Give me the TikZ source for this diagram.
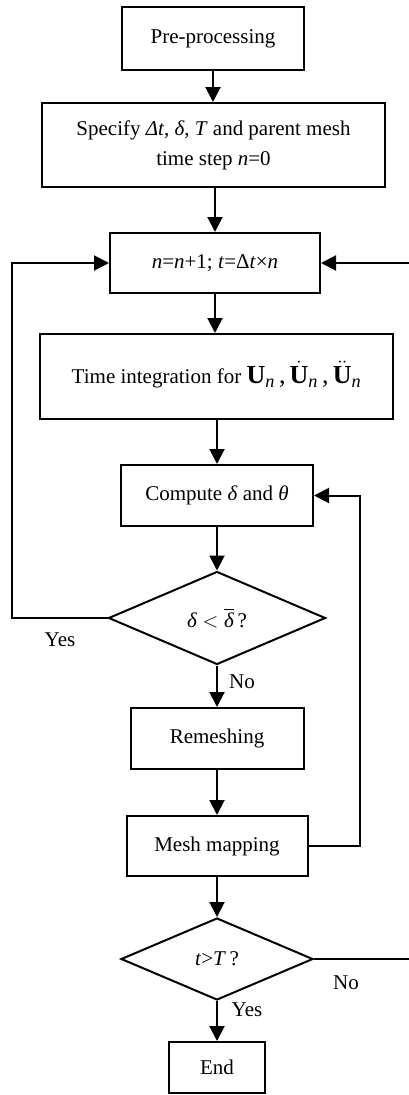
\documentclass[tikz,border=0pt]{standalone}
\usepackage{amsmath}
\usepackage{fontspec}
\setmainfont{Liberation Serif}
\usetikzlibrary{shapes.geometric,arrows.meta}
\begin{document}
\begin{tikzpicture}[x=1pt,y=-1pt,
  font=\fontsize{21}{25}\selectfont,
  box/.style={draw,line width=2pt,rectangle,inner sep=0pt,align=center},
  dia/.style={draw,line width=2pt,diamond,inner sep=0pt},
  conn/.style={line width=2pt},
  arr/.style={line width=2pt,-{Triangle[width=15pt,length=15pt]}},
  lab/.style={inner sep=0pt}]
\path[use as bounding box] (0,0) rectangle (409,1095);

\node[box,minimum width=182pt,minimum height=63pt] (pre) at (213,38.5) {Pre-processing};
\node[box,minimum width=343pt,minimum height=84pt] (spec) at (213.5,145)
  {Specify \textit{Δt}, \textit{δ}, \textit{T} and parent mesh\\[5pt] time step \textit{n}=0};
\node[box,minimum width=210pt,minimum height=60pt] (nbox) at (215,263)
  {\textit{n}=\textit{n}+1; \textit{t}=Δ\textit{t}×\textit{n}};
\node[box,minimum width=353pt,minimum height=85pt] (time) at (216.5,376.5)
  {\raisebox{9pt}{Time integration for\ {\fontsize{26}{26}\selectfont$\textbf{U}_{\text{\textit{n}}}\,\text{,}\,\dot{\textbf{U}}_{\text{\textit{n}}}\,\text{,}\,\ddot{\textbf{U}}_{\text{\textit{n}}}$}}};
\node[box,minimum width=192pt,minimum height=61pt] (comp) at (217,495.5)
  {\raisebox{5pt}{Compute \textit{δ} and \textit{θ}}};
\node[dia,minimum width=217pt,minimum height=93pt] (d1) at (217,618)
  {$\textit{δ}<\overline{\textit{δ}}$\,?};
\node[box,minimum width=173pt,minimum height=61pt] (rem) at (217,738.5) {Remeshing};
\node[box,minimum width=181pt,minimum height=60pt] (map) at (217,846) {Mesh mapping};
\node[dia,minimum width=192pt,minimum height=82pt] (d2) at (217,959) {\textit{t}>\textit{T}\,?};
\node[box,minimum width=96pt,minimum height=51pt] (end) at (217,1067.5) {End};

\coordinate (L) at (12,618);
\coordinate (R) at (409,263);
\coordinate (RM) at (360,495.5);
\coordinate (R2) at (409,959);

\draw[arr] (pre.south) -- (pre.south |- spec.north);
\draw[arr] (nbox.north |- spec.south) -- (nbox.north);
\draw[arr] (nbox.south) -- (nbox.south |- time.north);
\draw[arr] (comp.north |- time.south) -- (comp.north);
\draw[arr] (comp.south) -- (d1.north);
\draw[arr] (d1.west) -- (L) |- (nbox.west);
\draw[arr] (R) -- (nbox.east);
\draw[arr] (d1.south) -- (rem.north);
\draw[arr] (rem.south) -- (map.north);
\draw[arr] (map.east) -| (RM) -- (comp.east);
\draw[arr] (map.south) -- (d2.north);
\draw[conn] (d2.east) -- (R2);
\draw[arr] (d2.south) -- (end.north);

\node[lab] (yes1) at (60,640) {Yes};
\node[lab] (no1) at (242,682) {No};
\node[lab] (no2) at (346,983) {No};
\node[lab] (yes2) at (247,1010) {Yes};
\end{tikzpicture}
\end{document}
